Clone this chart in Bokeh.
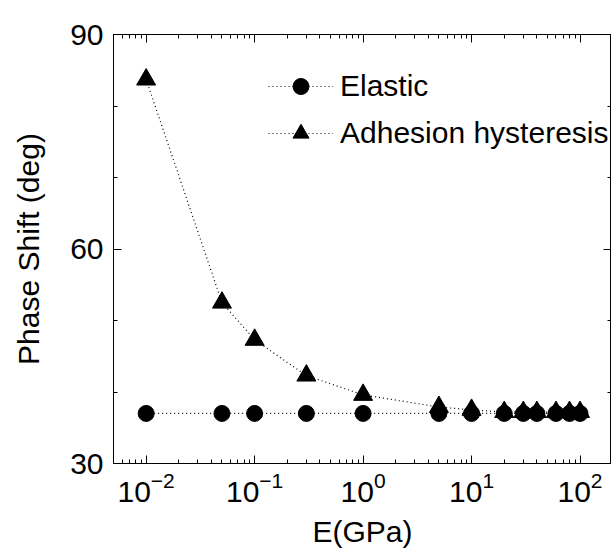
from bokeh.plotting import figure
from bokeh.models import (LogAxis, LinearAxis, FixedTicker, Range1d, Legend, LegendItem,
                          CustomJSTickFormatter, LogTickFormatter)
from bokeh.embed import file_html
from bokeh.resources import INLINE

# ---- data ----
E_GPa = [0.01, 0.05, 0.1, 0.3, 1, 5, 10, 20, 30, 40, 60, 80, 100]
elastic = [37.0, 37.0, 37.0, 37.0, 37.0, 37.0, 37.0, 37.0, 37.0, 37.0, 37.0, 37.0, 37.0]
adhesion = [83.7, 52.5, 47.3, 42.3, 39.6, 37.9, 37.5, 37.2, 37.2, 37.2, 37.2, 37.2, 37.2]
x_major = [0.01, 0.1, 1, 10, 100]
x_minor = [m * d for d in [0.001, 0.01, 0.1, 1, 10, 100] for m in [2, 3, 4, 5, 6, 7, 8, 9]]
y_major = [30, 60, 90]
y_minor = [40, 50, 70, 80]

FONT = "Liberation Sans"

p = figure(width=611, height=553, x_axis_type="log",
           x_range=Range1d(0.005, 195), y_range=Range1d(30, 90),
           output_backend="svg", toolbar_location=None,
           min_border_left=113, min_border_top=34, min_border_right=0, min_border_bottom=90)
p.grid.visible = False
p.outline_line_color = "black"
p.outline_line_width = 1
p.background_fill_color = "white"
p.border_fill_color = "white"

xt = FixedTicker(ticks=x_major, minor_ticks=x_minor)
yt = FixedTicker(ticks=y_major, minor_ticks=y_minor)


def style(ax, labels=True):
    ax.major_tick_in = 8
    ax.major_tick_out = 0
    ax.minor_tick_in = 4
    ax.minor_tick_out = 0
    ax.axis_line_color = "black"
    ax.major_tick_line_color = "black"
    ax.minor_tick_line_color = "black"
    ax.major_label_text_font = FONT
    ax.major_label_text_color = "black"
    ax.major_label_text_font_size = "30px"
    ax.axis_label_text_font = FONT
    ax.axis_label_text_font_size = "30px"
    ax.axis_label_text_font_style = "normal"
    ax.axis_label_text_color = "black"
    if not labels:
        ax.formatter = CustomJSTickFormatter(code="return ''")
        ax.major_label_text_font_size = "0px"
        ax.major_label_standoff = 0


xb = p.below[0]
xb.ticker = xt
xb.formatter = LogTickFormatter()
style(xb)
xb.major_label_standoff = 8
xb.axis_label = "E(GPa)"
xb.axis_label_standoff = 10

yl = p.left[0]
yl.ticker = yt
style(yl)
yl.major_label_standoff = 10
yl.axis_label = "Phase Shift (deg)"
yl.axis_label_standoff = 22

xa = LogAxis(ticker=xt)
style(xa, labels=False)
p.add_layout(xa, "above")

yr = LinearAxis(ticker=yt)
style(yr, labels=False)
p.add_layout(yr, "right")

l1 = p.line(E_GPa, elastic, line_color="black", line_width=1.2, line_dash="1 3")
s1 = p.scatter(E_GPa, elastic, marker="circle", size=16, fill_color="black", line_color="black")
l2 = p.line(E_GPa, adhesion, line_color="black", line_width=1.2, line_dash="1 3")
s2 = p.scatter(E_GPa, adhesion, marker="triangle", size=19, fill_color="black", line_color="black")

legend = Legend(items=[LegendItem(label="Elastic", renderers=[l1, s1]),
                       LegendItem(label="Adhesion hysteresis", renderers=[l2, s2])],
                location=(155, 310))
legend.glyph_width = 65
legend.glyph_height = 40
legend.label_height = 30
legend.label_standoff = 7
legend.spacing = 7
legend.padding = 0
legend.margin = 0
legend.border_line_color = None
legend.background_fill_alpha = 0
legend.label_text_font = FONT
legend.label_text_font_size = "30px"
legend.label_text_color = "black"
legend.label_text_baseline = "middle"
p.add_layout(legend)

open("out.html", "w").write(file_html(p, INLINE))
